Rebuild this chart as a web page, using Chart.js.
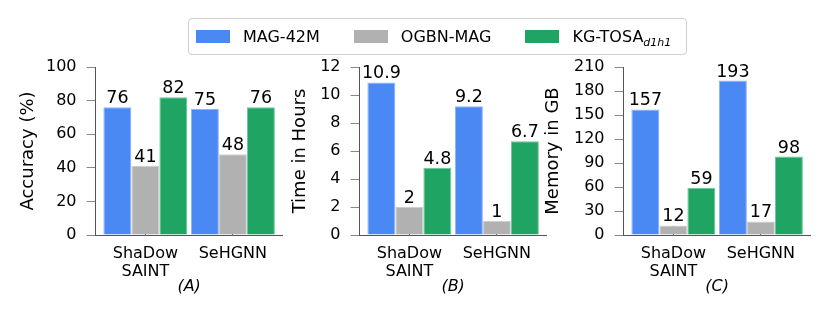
<!DOCTYPE html>
<html>
<head>
<meta charset="utf-8">
<script src="https://cdn.jsdelivr.net/npm/chart.js@4.4.1/dist/chart.umd.min.js"></script>
<style>
  body { margin: 0; background: #fff; }
  #wrap { position: relative; width: 831px; height: 315px; font-family: 'DejaVu Sans', sans-serif; }
  #wrap canvas { position: absolute; left: 0; top: 0; }
  #legend {
    position: absolute; left: 188px; top: 18px; width: 499px; height: 37px;
    box-sizing: border-box; border: 1.5px solid #cfcfcf; border-radius: 4px;
    display: flex; align-items: center; padding-left: 7px; font-size: 16px; color: #000;
    white-space: nowrap;
  }
  .item { display: flex; align-items: center; margin-right: 34px; flex-shrink: 0; }
  .swatch { width: 34px; height: 13px; margin-right: 13px; flex-shrink: 0; }
  .item sub { font-size: 11px; font-style: italic; vertical-align: -4px; line-height: 0; }
</style>
</head>
<body>
<div id="wrap">
  <canvas id="chartA" width="831" height="315"></canvas>
  <canvas id="chartB" width="831" height="315"></canvas>
  <canvas id="chartC" width="831" height="315"></canvas>
  <div id="legend"></div>
</div>
<script>
const categories = [['ShaDow', 'SAINT'], 'SeHGNN'];
const seriesNames = ['MAG-42M', 'OGBN-MAG', 'KG-TOSA'];
const seriesSubs = ['', '', 'd1h1'];
const seriesColors = ['#4a89f3', '#b1b1b1', '#1fa463'];
const edgeColors = ['#8db4f7', '#cdcdcd', '#6cc698'];

// (A) accuracy
const accMag42m = [76, 75];
const accOgbn = [41, 48];
const accTosa = [82, 76];
const accTicks = [0, 20, 40, 60, 80, 100];

// (B) training time
const hoursMag42m = [10.9, 9.2];
const hoursOgbn = [2, 1];
const hoursTosa = [4.8, 6.7];
const hoursTicks = [0, 2, 4, 6, 8, 10, 12];

// (C) memory
const memMag42m = [157, 193];
const memOgbn = [12, 17];
const memTosa = [59, 98];
const memTicks = [0, 30, 60, 90, 120, 150, 180, 210];

const Y_WIDTH = 85;
const AREA_W = 187.25;

Chart.defaults.font.family = "'DejaVu Sans', sans-serif";
Chart.defaults.color = '#000';

const valueLabels = {
  id: 'valueLabels',
  afterDatasetsDraw(chart) {
    const { ctx } = chart;
    ctx.save();
    ctx.font = "17.5px 'DejaVu Sans', sans-serif";
    ctx.fillStyle = '#000';
    ctx.textAlign = 'center';
    ctx.textBaseline = 'alphabetic';
    chart.data.datasets.forEach((ds, k) => {
      chart.getDatasetMeta(k).data.forEach((bar, i) => {
        ctx.fillText(String(ds.data[i].y), bar.x, bar.y - 4);
      });
    });
    ctx.restore();
  }
};

function makePanel(id, p) {
  const left = p.axisX - Y_WIDTH;
  new Chart(document.getElementById(id).getContext('2d'), {
    type: 'bar',
    data: {
      datasets: p.values.map((vals, k) => ({
        label: seriesNames[k],
        data: vals.map((v, i) => ({ x: i, y: v })),
        backgroundColor: seriesColors[k],
        borderColor: edgeColors[k],
        borderWidth: 1,
        categoryPercentage: 0.96,
        barPercentage: 1
      }))
    },
    options: {
      responsive: false,
      animation: false,
      events: [],
      layout: { padding: { left: left, right: 831 - (p.axisX + AREA_W), top: 67, bottom: 0 } },
      plugins: { legend: { display: false }, tooltip: { enabled: false } },
      scales: {
        x: {
          type: 'linear',
          offset: false,
          min: -0.57,
          max: 1.57,
          z: 1,
          afterBuildTicks: s => { s.ticks = categories.map((c, i) => ({ value: i })); },
          afterFit: s => { s.height = 80; },
          ticks: {
            callback: v => categories[v],
            font: { size: 16, lineHeight: 1.12 },
            padding: 19,
            maxRotation: 0,
            autoSkip: false
          },
          grid: { offset: false, drawOnChartArea: false, tickLength: -9, color: '#666' },
          border: { color: '#555' },
          title: {
            display: true,
            text: p.xTitle,
            font: { size: 16, style: 'italic' },
            padding: { top: 0, bottom: 19 }
          }
        },
        y: {
          min: p.ticks[0],
          max: p.ticks[p.ticks.length - 1],
          afterBuildTicks: s => { s.ticks = p.ticks.map(v => ({ value: v })); },
          afterFit: s => { s.width = Y_WIDTH; },
          ticks: { callback: v => String(v), font: { size: 16 }, padding: 10 },
          grid: { drawOnChartArea: false, tickLength: 9, color: '#888' },
          border: { color: '#555' },
          title: {
            display: true,
            text: p.yTitle,
            font: { size: 18 },
            padding: { top: p.titleX - left - 10.8, bottom: 0 }
          }
        }
      }
    },
    plugins: [valueLabels]
  });
}

makePanel('chartA', {
  values: [accMag42m, accOgbn, accTosa], ticks: accTicks,
  yTitle: 'Accuracy (%)', xTitle: '(A)', axisX: 95.5, titleX: 28
});
makePanel('chartB', {
  values: [hoursMag42m, hoursOgbn, hoursTosa], ticks: hoursTicks,
  yTitle: 'Time in Hours', xTitle: '(B)', axisX: 359.5, titleX: 300
});
makePanel('chartC', {
  values: [memMag42m, memOgbn, memTosa], ticks: memTicks,
  yTitle: 'Memory in GB', xTitle: '(C)', axisX: 623.5, titleX: 553
});

const legend = document.getElementById('legend');
seriesNames.forEach((name, k) => {
  const item = document.createElement('div');
  item.className = 'item';
  item.innerHTML = `<span class="swatch" style="background:${seriesColors[k]}"></span>` +
    `<span>${name}${seriesSubs[k] ? `<sub>${seriesSubs[k]}</sub>` : ''}</span>`;
  legend.appendChild(item);
});
</script>
</body>
</html>
